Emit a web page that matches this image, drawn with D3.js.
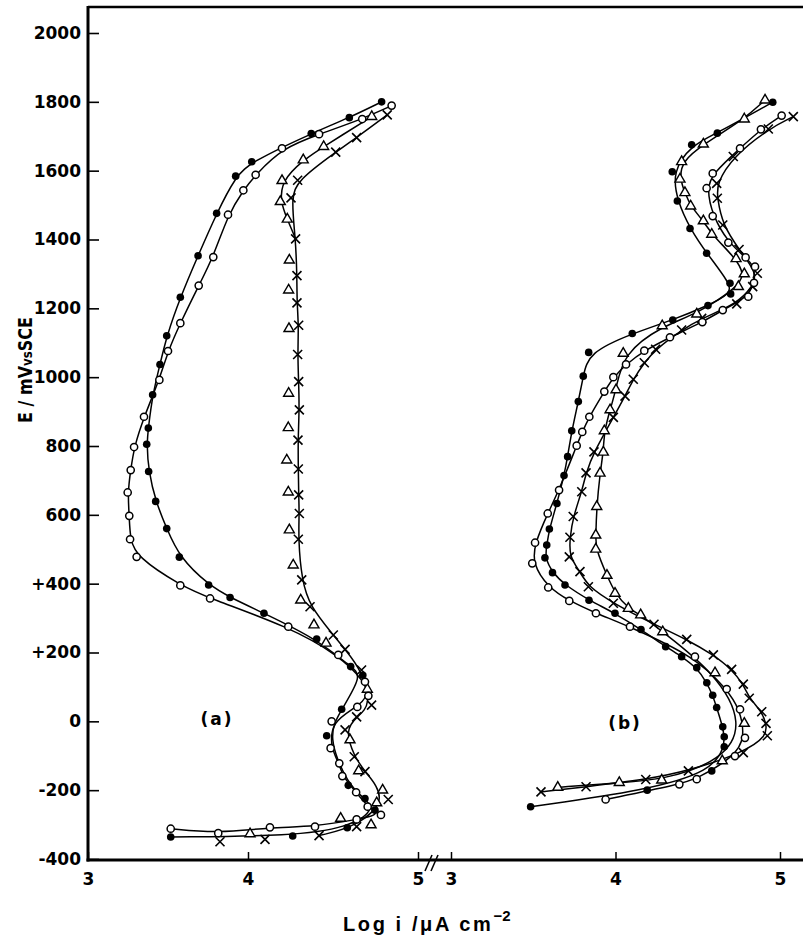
<!DOCTYPE html>
<html><head><meta charset="utf-8">
<script src="https://cdn.jsdelivr.net/npm/d3@7"></script>
<style>
body{margin:0;background:#fff}
svg{display:block}
text{font-family:"DejaVu Sans",sans-serif;font-weight:bold;fill:#000}
</style>
</head><body>
<svg id="chart" width="803" height="936"></svg>
<script>
// ---- tick values / labels ----
const yTickValues = [-400,-200,0,200,400,600,800,1000,1200,1400,1600,1800,2000];
const yTickLabels = ["-400","-200","0","+200","+400","600","800","1000","1200","1400","1600","1800","2000"];
const xTickValues = [3,4,5];
const xTickLabels = ["3","4","5"];
const panelLabels = ["(a)","(b)"];

// ---- data: [log i, E (mV vs SCE)] ----
// panel (a)
const aFilled = [[3.517,-336],[4.263,-333],[4.584,-309],[4.747,-258],[4.688,-224],[4.590,-186],[4.463,-42],[4.551,35],[4.675,134],[4.604,159],[4.404,239],[4.094,314],[3.888,360],[3.754,396],[3.571,477],[3.492,560],[3.423,639],[3.379,726],[3.367,805],[3.377,852],[3.404,949],[3.450,1037],[3.492,1120],[3.577,1232],[3.688,1353],[3.804,1476],[3.923,1584],[4.022,1626],[4.372,1708],[4.596,1754],[4.786,1800]];
const aOpen = [[3.517,-312],[3.814,-325],[4.129,-308],[4.394,-306],[4.639,-285],[4.782,-272],[4.704,-248],[4.636,-206],[4.555,-159],[4.537,-122],[4.486,-78],[4.492,0],[4.643,42],[4.708,74],[4.688,115],[4.531,193],[4.237,275],[3.763,357],[3.577,395],[3.304,478],[3.263,529],[3.258,597],[3.248,665],[3.267,730],[3.288,797],[3.350,885],[3.446,992],[3.500,1076],[3.577,1157],[3.692,1266],[3.783,1349],[3.875,1472],[3.971,1543],[4.045,1588],[4.200,1665],[4.418,1706],[4.672,1750],[4.845,1789]];
const aTriangle = [[4.012,-327],[4.545,-282],[4.724,-301],[4.757,-237],[4.792,-200],[4.651,-144],[4.600,-54],[4.702,93],[4.459,227],[4.388,280],[4.310,352],[4.266,454],[4.243,556],[4.237,666],[4.228,759],[4.237,853],[4.239,953],[4.241,1141],[4.239,1253],[4.243,1340],[4.231,1459],[4.190,1510],[4.200,1571],[4.325,1631],[4.445,1670],[4.728,1757]];
const aCross = [[3.825,-350],[4.100,-343],[4.418,-332],[4.639,-306],[4.825,-227],[4.688,-146],[4.625,-103],[4.571,-25],[4.639,13],[4.727,47],[4.668,149],[4.571,209],[4.502,251],[4.365,333],[4.316,411],[4.296,529],[4.302,604],[4.298,658],[4.296,733],[4.294,817],[4.302,905],[4.298,987],[4.292,1066],[4.298,1151],[4.288,1216],[4.288,1295],[4.280,1402],[4.253,1521],[4.292,1572],[4.516,1654],[4.639,1696],[4.819,1762]];
// panel (b)
const bFilled = [[3.484,-248],[4.193,-200],[4.585,-144],[4.661,-74],[4.661,-45],[4.652,-16],[4.615,40],[4.591,76],[4.555,112],[4.494,156],[4.402,188],[4.305,217],[4.155,267],[3.997,314],[3.839,352],[3.693,396],[3.617,432],[3.571,475],[3.582,512],[3.598,559],[3.644,633],[3.687,714],[3.709,769],[3.734,844],[3.774,929],[3.804,1003],[3.837,1072],[4.102,1127],[4.348,1166],[4.562,1208],[4.700,1242],[4.696,1273],[4.554,1360],[4.453,1432],[4.376,1512],[4.345,1597],[4.463,1675],[4.619,1709],[4.956,1799]];
const bOpen = [[3.940,-227],[4.388,-183],[4.494,-168],[4.726,-101],[4.787,-48],[4.757,35],[4.676,94],[4.483,188],[4.088,275],[3.881,314],[3.719,350],[3.591,389],[3.494,459],[3.511,519],[3.588,604],[3.657,672],[3.764,801],[3.798,841],[3.841,885],[3.932,958],[3.987,1000],[4.064,1037],[4.175,1077],[4.331,1116],[4.528,1160],[4.652,1195],[4.807,1234],[4.842,1274],[4.848,1321],[4.791,1348],[4.686,1391],[4.591,1468],[4.554,1549],[4.591,1592],[4.757,1665],[4.884,1720],[5.010,1760]];
const bTriangle = [[3.649,-192],[4.023,-178],[4.281,-171],[4.649,-115],[4.783,-6],[4.605,141],[4.287,260],[4.153,309],[4.078,328],[3.997,372],[3.948,424],[3.880,500],[3.880,541],[3.886,624],[3.906,721],[3.926,782],[3.932,844],[3.967,905],[4.003,963],[4.047,1069],[4.284,1149],[4.494,1183],[4.747,1263],[4.783,1300],[4.733,1344],[4.585,1415],[4.534,1454],[4.457,1497],[4.422,1536],[4.392,1575],[4.402,1626],[4.534,1677],[4.783,1750],[4.909,1805]];
const bCross = [[3.547,-205],[3.821,-190],[4.184,-169],[4.443,-144],[4.777,-91],[4.923,-42],[4.915,-6],[4.889,28],[4.813,67],[4.777,108],[4.706,151],[4.595,193],[4.433,238],[4.234,282],[3.987,343],[3.835,391],[3.784,435],[3.719,478],[3.723,535],[3.743,595],[3.795,667],[3.821,722],[3.869,783],[3.987,883],[4.058,945],[4.108,994],[4.175,1042],[4.244,1081],[4.402,1137],[4.524,1171],[4.737,1213],[4.834,1263],[4.862,1302],[4.751,1371],[4.652,1442],[4.619,1520],[4.615,1563],[4.716,1641],[4.929,1721],[5.081,1757]];

// line traces (the triangle curve in (a) only separates from the x curve at the top)
const aTriangleLine = [aCross[26]].concat(aTriangle.slice(20));
const aCrossLine = aCross.slice(2);

// ---- scales ----
const svg = d3.select("#chart");
const y = d3.scaleLinear().domain([-400,2000]).range([859,33]);
const xa = d3.scaleLinear().domain([3,4,5]).range([88,248,418]);
const xb = d3.scaleLinear().domain([3,5]).range([451,780]);
const axisY = 860, axisX = 88;

// ---- frame ----
svg.append("line").attr("x1",axisX).attr("x2",axisX).attr("y1",6).attr("y2",861.5).attr("stroke","#000").attr("stroke-width",3);
svg.append("line").attr("x1",axisX).attr("x2",803).attr("y1",7).attr("y2",7).attr("stroke","#000").attr("stroke-width",2.5);
svg.append("line").attr("x1",86.5).attr("x2",803).attr("y1",axisY).attr("y2",axisY).attr("stroke","#000").attr("stroke-width",3);

// ---- y axis ----
const gy = svg.append("g").attr("transform",`translate(${axisX},0)`)
  .call(d3.axisLeft(y).tickValues(yTickValues).tickFormat((d,i)=>yTickLabels[i]).tickSizeInner(-11).tickSizeOuter(0).tickPadding(7));
gy.select(".domain").remove();
gy.selectAll(".tick line").attr("stroke","#000").attr("stroke-width",1.6);
gy.selectAll(".tick text").style("font-family","DejaVu Sans").style("font-weight","bold").style("font-size","17px").attr("fill","#000");

// ---- x axes ----
function xAxis(scale){
  const g = svg.append("g").attr("transform",`translate(0,${axisY})`)
    .call(d3.axisBottom(scale).tickValues(xTickValues).tickFormat((d,i)=>xTickLabels[i]).tickSizeInner(-8).tickSizeOuter(0).tickPadding(13));
  g.select(".domain").remove();
  g.selectAll(".tick line").attr("stroke","#000").attr("stroke-width",1.5);
  g.selectAll(".tick text").style("font-family","DejaVu Sans").style("font-weight","bold").style("font-size","17px").attr("fill","#000");
}
xAxis(xa); xAxis(xb);

// axis break
[[425,871,432,855],[431,871,438,855]].forEach(s=>{
  svg.append("line").attr("x1",s[0]).attr("y1",s[1]).attr("x2",s[2]).attr("y2",s[3]).attr("stroke","#000").attr("stroke-width",1.6);
});

// ---- curves ----
function curve(scale, pts){
  const gen = d3.line().x(d=>scale(d[0])).y(d=>y(d[1])).curve(d3.curveBasis);
  svg.append("path").attr("d",gen(pts)).attr("fill","none").attr("stroke","#000").attr("stroke-width",1.5);
}
curve(xa,aFilled); curve(xa,aOpen); curve(xa,aCrossLine); curve(xa,aTriangleLine);
curve(xb,bFilled); curve(xb,bOpen); curve(xb,bCross); curve(xb,bTriangle);

// ---- markers ----
function markers(scale, pts, type){
  const g = svg.append("g");
  pts.forEach(d=>{
    const cx = scale(d[0]), cy = y(d[1]);
    if(type==="filled"){
      g.append("circle").attr("cx",cx).attr("cy",cy).attr("r",3.8).attr("fill","#000");
    } else if(type==="open"){
      g.append("circle").attr("cx",cx).attr("cy",cy).attr("r",3.6).attr("fill","#fff").attr("stroke","#000").attr("stroke-width",1.5);
    } else if(type==="triangle"){
      const s=10, h=s*Math.sqrt(3)/2;
      g.append("path").attr("d",`M${cx},${cy-h*2/3}L${cx+s/2},${cy+h/3}L${cx-s/2},${cy+h/3}Z`).attr("fill","#fff").attr("stroke","#000").attr("stroke-width",1.4);
    } else {
      const r=4.5;
      g.append("path").attr("d",`M${cx-r},${cy-r}L${cx+r},${cy+r}M${cx-r},${cy+r}L${cx+r},${cy-r}`).attr("stroke","#000").attr("stroke-width",1.6);
    }
  });
}
markers(xa,aCross,"cross"); markers(xa,aTriangle,"triangle"); markers(xa,aOpen,"open"); markers(xa,aFilled,"filled");
markers(xb,bCross,"cross"); markers(xb,bTriangle,"triangle"); markers(xb,bOpen,"open"); markers(xb,bFilled,"filled");

// ---- panel labels ----
svg.append("text").attr("x",217).attr("y",720).attr("text-anchor","middle").attr("dominant-baseline","middle")
  .style("font-size","17px").style("letter-spacing","2px").text(panelLabels[0]);
svg.append("text").attr("x",625).attr("y",724).attr("text-anchor","middle").attr("dominant-baseline","middle")
  .style("font-size","17px").style("letter-spacing","2px").text(panelLabels[1]);

// ---- axis titles ----
const xt = svg.append("text").attr("x",343).attr("y",931).style("font-family","Liberation Sans, Arial, sans-serif").style("font-size","20px");
xt.append("tspan").style("letter-spacing","2.6px").text("Log i /\u03BCA cm");
xt.append("tspan").attr("dy",-10).style("font-size","15px").text("\u22122");

const yt = svg.append("text").attr("transform","translate(32,370) rotate(-90)").attr("text-anchor","middle")
  .attr("textLength",106).attr("lengthAdjust","spacingAndGlyphs").style("font-size","19px");
yt.append("tspan").text("E / mV");
yt.append("tspan").style("font-size","14px").text("vs");
yt.append("tspan").text("SCE");
</script>
</body></html>
